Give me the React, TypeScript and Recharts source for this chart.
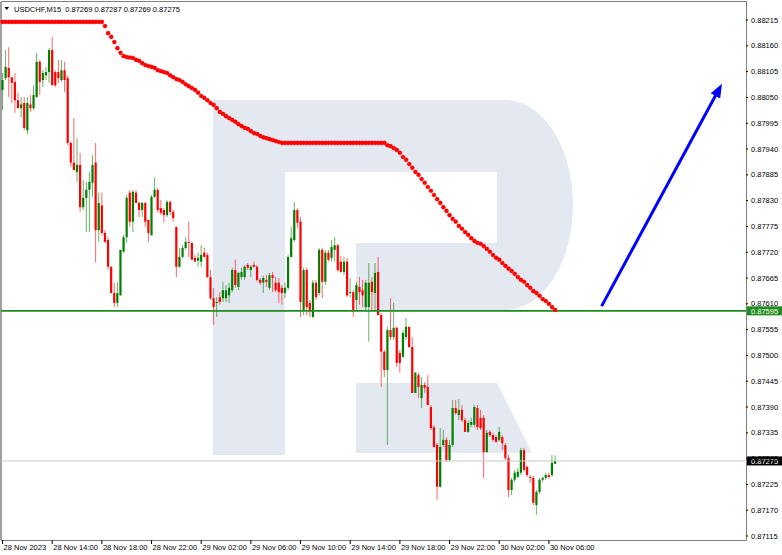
import React from "react";
import { ComposedChart, Bar, Line, XAxis, YAxis, ReferenceLine } from "recharts";

// USDCHF M15 candles, prices in 1/100000 (87595 = 0.87595)
const opens = [
  88066, 88091, 88113, 88093, 88083, 88044, 88027, 88038, 87980, 88035,
  88027, 88051, 88126, 88087, 88097, 88104, 88151, 88104, 88104, 88087,
  88108, 88091, 87953, 87911, 87891, 87906, 87816, 87836, 87853, 87868,
  87911, 87767, 87820, 87761, 87746, 87689, 87633, 87612, 87628, 87721,
  87752, 87847, 87785, 87847, 87825, 87810, 87825, 87789, 87756, 87838,
  87853, 87814, 87810, 87799, 87827, 87806, 87774, 87689, 87710, 87729,
  87742, 87740, 87708, 87702, 87700, 87719, 87714, 87667, 87622, 87612,
  87624, 87622, 87622, 87628, 87639, 87682, 87646, 87667, 87667, 87693,
  87682, 87693, 87689, 87661, 87655, 87661, 87644, 87671, 87655, 87655,
  87644, 87633, 87644, 87710, 87746, 87810, 87785, 87597, 87682, 87612,
  87582, 87655, 87633, 87725, 87657, 87719, 87708, 87725, 87735, 87700,
  87678, 87700, 87633, 87635, 87618, 87646, 87639, 87603, 87603, 87657,
  87633, 87678, 87586, 87508, 87469, 87554, 87539, 87559, 87505, 87497,
  87539, 87561, 87518, 87420, 87458, 87409, 87437, 87433, 87390, 87347,
  87309, 87220, 87309, 87320, 87277, 87309, 87388, 87373, 87384, 87362,
  87337, 87352, 87352, 87388, 87367, 87367, 87294, 87337, 87330, 87326,
  87320, 87326, 87309, 87281, 87213, 87235, 87241, 87250, 87298, 87262,
  87241, 87239, 87181, 87209, 87235, 87239, 87245, 87245, 87269,
];
const highs = [
  88102, 88151, 88157, 88093, 88102, 88060, 88051, 88051, 88051, 88055,
  88076, 88145, 88130, 88108, 88115, 88155, 88179, 88108, 88130, 88130,
  88126, 88097, 87955, 88006, 87963, 87932, 87874, 87870, 87891, 87927,
  87953, 87847, 87847, 87767, 87752, 87689, 87655, 87657, 87725, 87756,
  87842, 87853, 87853, 87853, 87827, 87827, 87827, 87789, 87842, 87880,
  87857, 87831, 87814, 87831, 87831, 87810, 87774, 87729, 87735, 87752,
  87785, 87740, 87714, 87719, 87735, 87729, 87719, 87682, 87644, 87624,
  87635, 87657, 87650, 87655, 87687, 87704, 87678, 87687, 87693, 87697,
  87693, 87700, 87693, 87665, 87670, 87671, 87676, 87678, 87667, 87665,
  87650, 87655, 87714, 87774, 87827, 87814, 87795, 87687, 87687, 87618,
  87661, 87661, 87729, 87729, 87725, 87725, 87746, 87752, 87738, 87712,
  87710, 87708, 87665, 87639, 87657, 87667, 87661, 87661, 87697, 87667,
  87697, 87710, 87590, 87512, 87561, 87622, 87612, 87561, 87512, 87554,
  87580, 87561, 87539, 87465, 87463, 87454, 87443, 87458, 87394, 87352,
  87313, 87345, 87341, 87326, 87320, 87405, 87405, 87407, 87394, 87367,
  87362, 87367, 87394, 87394, 87384, 87373, 87341, 87341, 87335, 87330,
  87347, 87330, 87313, 87288, 87239, 87256, 87260, 87303, 87303, 87266,
  87245, 87243, 87213, 87239, 87241, 87250, 87250, 87288, 87287,
];
const lows = [
  88023, 88087, 88051, 88038, 88017, 88027, 88008, 87980, 87971, 88019,
  88023, 88049, 88055, 88072, 88087, 88081, 88076, 88072, 88081, 88083,
  88062, 87948, 87902, 87895, 87870, 87806, 87810, 87763, 87763, 87838,
  87698, 87742, 87756, 87740, 87682, 87633, 87603, 87603, 87628, 87719,
  87740, 87774, 87763, 87825, 87795, 87795, 87774, 87742, 87756, 87836,
  87804, 87799, 87783, 87795, 87799, 87785, 87667, 87687, 87708, 87725,
  87710, 87704, 87700, 87689, 87689, 87708, 87665, 87618, 87565, 87582,
  87608, 87614, 87614, 87612, 87635, 87644, 87639, 87661, 87661, 87682,
  87667, 87687, 87657, 87650, 87633, 87646, 87639, 87635, 87635, 87612,
  87608, 87622, 87639, 87708, 87742, 87772, 87582, 87586, 87586, 87582,
  87580, 87618, 87628, 87622, 87650, 87700, 87700, 87700, 87678, 87676,
  87671, 87624, 87624, 87582, 87597, 87608, 87603, 87597, 87529, 87597,
  87597, 87586, 87433, 87454, 87309, 87533, 87533, 87475, 87463, 87495,
  87533, 87516, 87420, 87420, 87409, 87388, 87420, 87394, 87341, 87303,
  87192, 87218, 87305, 87273, 87273, 87305, 87373, 87362, 87358, 87337,
  87335, 87347, 87347, 87341, 87341, 87239, 87292, 87326, 87316, 87313,
  87316, 87298, 87277, 87198, 87202, 87230, 87239, 87245, 87252, 87241,
  87228, 87181, 87160, 87205, 87230, 87235, 87237, 87241, 87269,
];
const closes = [
  88087, 88115, 88093, 88081, 88044, 88027, 88035, 87985, 88038, 88027,
  88055, 88126, 88083, 88102, 88104, 88151, 88076, 88076, 88091, 88108,
  88087, 87953, 87911, 87895, 87906, 87816, 87836, 87853, 87870, 87906,
  87767, 87825, 87761, 87742, 87689, 87633, 87612, 87633, 87725, 87752,
  87836, 87785, 87849, 87825, 87810, 87825, 87785, 87761, 87838, 87853,
  87810, 87804, 87799, 87827, 87806, 87793, 87689, 87710, 87729, 87742,
  87740, 87704, 87700, 87708, 87714, 87710, 87667, 87622, 87603, 87614,
  87614, 87639, 87639, 87644, 87682, 87650, 87676, 87678, 87689, 87687,
  87689, 87689, 87661, 87655, 87665, 87657, 87671, 87665, 87639, 87635,
  87633, 87644, 87710, 87750, 87810, 87783, 87614, 87682, 87603, 87597,
  87655, 87624, 87725, 87657, 87719, 87704, 87731, 87735, 87682, 87678,
  87700, 87628, 87635, 87597, 87650, 87635, 87628, 87655, 87655, 87635,
  87676, 87586, 87508, 87469, 87554, 87539, 87559, 87484, 87484, 87548,
  87561, 87518, 87420, 87463, 87433, 87437, 87431, 87394, 87345, 87305,
  87220, 87305, 87320, 87277, 87309, 87388, 87377, 87384, 87362, 87337,
  87356, 87358, 87390, 87347, 87345, 87294, 87335, 87330, 87320, 87316,
  87337, 87313, 87281, 87213, 87235, 87250, 87252, 87298, 87256, 87245,
  87239, 87186, 87209, 87235, 87239, 87245, 87241, 87271, 87275,
];
// red dotted indicator line, one value per candle
const indicator = [
  88211, 88211, 88211, 88211, 88211, 88211, 88211, 88211, 88211, 88211,
  88211, 88211, 88211, 88211, 88211, 88211, 88211, 88211, 88211, 88211,
  88211, 88211, 88211, 88211, 88211, 88211, 88211, 88211, 88211, 88211,
  88211, 88211, 88211, 88202, 88187, 88179, 88168, 88155, 88145, 88138,
  88136, 88135, 88134, 88130, 88128, 88123, 88119, 88117, 88115, 88113,
  88108, 88106, 88104, 88102, 88097, 88093, 88089, 88087, 88083, 88078,
  88074, 88070, 88066, 88060, 88053, 88049, 88044, 88038, 88034, 88027,
  88019, 88015, 88010, 88006, 88002, 87998, 87993, 87989, 87985, 87983,
  87978, 87974, 87972, 87968, 87965, 87963, 87961, 87959, 87957, 87955,
  87953, 87953, 87953, 87953, 87953, 87953, 87953, 87953, 87953, 87953,
  87953, 87953, 87953, 87953, 87953, 87953, 87953, 87953, 87953, 87953,
  87953, 87953, 87953, 87953, 87953, 87953, 87953, 87953, 87953, 87953,
  87953, 87953, 87953, 87953, 87948, 87946, 87942, 87938, 87932, 87923,
  87917, 87908, 87900, 87891, 87885, 87876, 87868, 87859, 87851, 87842,
  87833, 87825, 87816, 87808, 87799, 87791, 87785, 87776, 87770, 87763,
  87757, 87750, 87744, 87740, 87738, 87733, 87727, 87721, 87714, 87708,
  87704, 87697, 87691, 87685, 87680, 87674, 87667, 87661, 87657, 87650,
  87644, 87637, 87633, 87627, 87620, 87616, 87610, 87603, 87597,
];

const timeTickSlots = [0, 16, 32, 48, 64, 80, 96, 112, 128, 144, 160, 176];
const timeLabels = [
  "28 Nov 2023", "28 Nov 14:00", "28 Nov 18:00", "28 Nov 22:00",
  "29 Nov 02:00", "29 Nov 06:00", "29 Nov 10:00", "29 Nov 14:00",
  "29 Nov 18:00", "29 Nov 22:00", "30 Nov 02:00", "30 Nov 06:00",
];
const priceTicks = [
  88215, 88160, 88105, 88050, 87995, 87940, 87885, 87830, 87775, 87720, 87665,
  87610, 87555, 87500, 87445, 87390, 87335, 87280, 87225, 87170, 87115,
];
const levelPrice = 87595;
const lastPrice = 87275;
const arrowSlots = [193, 231];
const arrowPrices = [87605, 88070];
const totalSlots = 240;
const symbol = "USDCHF,M15";
const lastBar = "0.87269 0.87287 0.87269 0.87275";

const W = 782;
const H = 555;
const GREEN = "#008000";
const RED = "#ff0000";
const FONT = "'Liberation Sans', Arial, sans-serif";
const quote = (v: number) => (v / 100000).toFixed(5);

const data = Array.from({ length: totalSlots }, (_, i) => {
  const has = i < opens.length;
  const a = arrowSlots.indexOf(i);
  return {
    i,
    range: has ? [lows[i], highs[i]] : null,
    o: has ? opens[i] : null,
    h: has ? highs[i] : null,
    l: has ? lows[i] : null,
    c: has ? closes[i] : null,
    ind: i < indicator.length ? indicator[i] : null,
    arrow: a >= 0 ? arrowPrices[a] : null,
  };
});

function Candle(props: any) {
  const { x, y, width, height, payload } = props;
  if (!payload || payload.o == null || !isFinite(y) || !isFinite(height)) return null;
  const { o, h, l, c } = payload;
  const top = Math.min(y, y + height);
  const bottom = Math.max(y, y + height);
  const k = h > l ? (bottom - top) / (h - l) : 0;
  const py = (v: number) => top + (h - v) * k;
  const cx = x + width / 2;
  const color = c >= o ? GREEN : RED;
  const bt = py(Math.max(o, c));
  const bb = py(Math.min(o, c));
  return (
    <g>
      <line x1={cx} x2={cx} y1={top} y2={bottom} stroke={color} strokeOpacity={0.6} strokeWidth={1} />
      <rect x={cx - 1.1} y={bt} width={2.2} height={Math.max(1, bb - bt)} fill={color} />
    </g>
  );
}

function TimeTick(props: any) {
  const { x, y, payload } = props;
  const idx = timeTickSlots.indexOf(payload.value);
  if (idx < 0) return null;
  return (
    <text x={x + 1} y={y + 4} textAnchor="start" fontSize={7.5} fontFamily={FONT} fill="#000">
      {timeLabels[idx]}
    </text>
  );
}

function priceTag(text: string, bg: string) {
  return (props: any) => {
    const vb = props.viewBox || {};
    const x0 = (vb.x || 0) + (vb.width || 0) + 1;
    const y0 = vb.y || 0;
    return (
      <g>
        <rect x={x0} y={y0 - 4.5} width={36} height={9} fill={bg} />
        <text x={x0 + 4} y={y0 + 2.8} fontSize={7.5} fontFamily={FONT} fill="#fff">
          {text}
        </text>
      </g>
    );
  };
}

function Background() {
  const wm = "#e4e9f1";
  return (
    <svg width={W} height={H} style={{ position: "absolute", left: 0, top: 0 }}>
      <rect x={0} y={0} width={W} height={H} fill="#fff" />
      <path
        d="M213,100 L505,100 A68,105 0 0 1 505,310 L356,310 L356,243 L497,243 L497,172 L285,172 L285,455 L213,455 Z"
        fill={wm}
      />
      <path d="M356,383 L497,383 L532,453 L356,453 Z" fill={wm} />
      <line x1={1} y1={2} x2={1} y2={540} stroke="#a0a0a0" strokeWidth={2} />
      <line x1={1} y1={1.5} x2={746.5} y2={1.5} stroke="#808080" strokeWidth={1} />
      <line x1={746.5} y1={1} x2={746.5} y2={540.5} stroke="#808080" strokeWidth={1} />
      <line x1={1} y1={540.5} x2={746.5} y2={540.5} stroke="#808080" strokeWidth={1} />
    </svg>
  );
}

export default function App() {
  return (
    <div style={{ position: "absolute", left: 0, top: 0, width: W, height: H, overflow: "hidden" }}>
      <Background />
      <div style={{ position: "absolute", left: 0, top: 0 }}>
        <ComposedChart
          width={W}
          height={H}
          data={data}
          margin={{ top: 2, right: 0, bottom: 0, left: 1 }}
          barCategoryGap={0}
          barGap={0}
        >
          <defs>
            <marker
              id="arrow-head"
              markerUnits="userSpaceOnUse"
              markerWidth={14}
              markerHeight={11}
              refX={9}
              refY={5.5}
              orient="auto"
            >
              <path d="M0,0 L14,5.5 L0,11 Z" fill="#0000ff" />
            </marker>
          </defs>
          <XAxis
            dataKey="i"
            type="category"
            ticks={timeTickSlots}
            interval={0}
            height={15}
            axisLine={false}
            tickLine={{ stroke: "#000" }}
            tickSize={4}
            tickMargin={2}
            tick={<TimeTick />}
          />
          <YAxis
            orientation="right"
            type="number"
            width={36}
            domain={[87106.5, 88253.4]}
            allowDataOverflow
            ticks={priceTicks}
            interval={0}
            axisLine={false}
            tickLine={{ stroke: "#000" }}
            tickSize={2}
            tickMargin={3}
            tick={{ fontSize: 7.5, fill: "#000", fontFamily: FONT }}
            tickFormatter={quote}
          />
          <Bar dataKey="range" shape={<Candle />} isAnimationActive={false} />
          <Line
            dataKey="ind"
            stroke="none"
            dot={{ r: 2.1, fill: RED, stroke: RED, strokeWidth: 0.3 }}
            activeDot={false}
            isAnimationActive={false}
          />
          <ReferenceLine y={lastPrice} stroke="#c8c8c8" strokeWidth={1} label={priceTag(quote(lastPrice), "#000")} />
          <ReferenceLine y={levelPrice} stroke="#1e8c1e" strokeWidth={1.6} label={priceTag(quote(levelPrice), "#1e8c1e")} />
          <Line
            dataKey="arrow"
            connectNulls
            stroke="#0000ff"
            strokeWidth={3}
            dot={false}
            activeDot={false}
            markerEnd="url(#arrow-head)"
            isAnimationActive={false}
          />
        </ComposedChart>
      </div>
      <svg width={W} height={16} style={{ position: "absolute", left: 0, top: 0, pointerEvents: "none" }}>
        <path d="M4.5,7 L9,7 L6.75,10 Z" fill="#000" />
        <text x={14} y={11.5} fontSize={7.5} fontFamily={FONT} fill="#000" xmlSpace="preserve">
          {symbol + "  " + lastBar}
        </text>
      </svg>
    </div>
  );
}
